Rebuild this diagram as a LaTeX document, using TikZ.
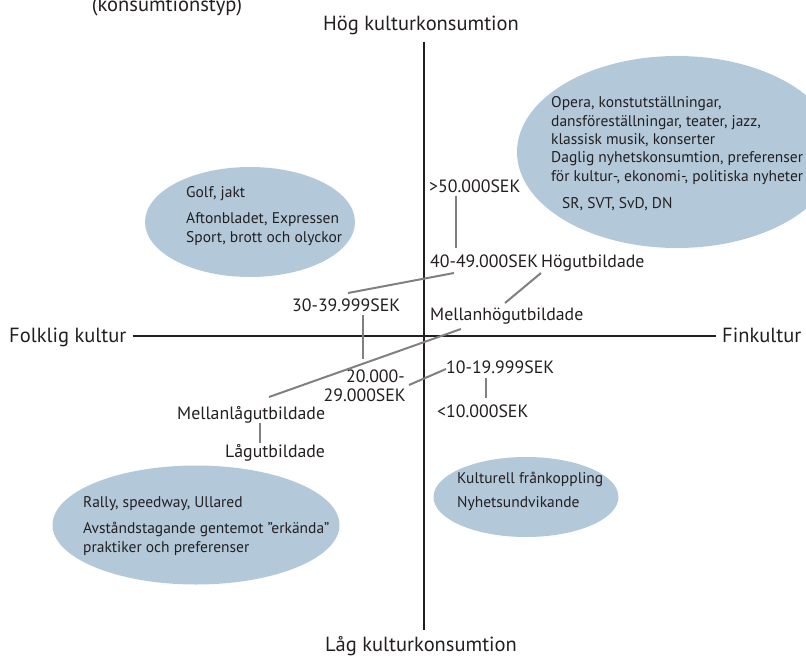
\documentclass[tikz,border=0pt]{standalone}
\usepackage{fontspec}
\setmainfont{PT Sans}
\usetikzlibrary{shapes.geometric}
\definecolor{blobblue}{RGB}{179,201,218}
\definecolor{ink}{RGB}{35,31,32}
\definecolor{linkgray}{RGB}{128,128,128}
\begin{document}
\begin{tikzpicture}[x=1pt,y=-1pt,
  axislabel/.style={font=\fontsize{20.5}{24}\selectfont, text=ink, inner sep=6pt},
  lbl/.style={font=\fontsize{17.8}{21}\selectfont, text=ink, inner sep=3pt, anchor=base west},
  blobtext/.style={font=\fontsize{15.5}{19}\selectfont, text=ink, inner sep=0pt, anchor=base west},
  blob/.style={ellipse, fill=blobblue, inner sep=0pt},
  axisline/.style={line width=2.4pt, ink},
  link/.style={line width=2pt, linkgray}]
\useasboundingbox (0,0) rectangle (806,658);
% ellipses
\node[blob, minimum width=320, minimum height=192] (eopera) at (677,152){};
\node[blob, minimum width=210, minimum height=110] (egolf) at (250,222){};
\node[blob, minimum width=287, minimum height=119] (erally) at (196,525){};
\node[blob, minimum width=185, minimum height=80] (ekult) at (526,497){};
\node[blobtext] (opera1) at (551,108){Opera, konstutställningar,};
\node[blobtext] (opera2) at (551,127){dansföreställningar, teater, jazz,};
\node[blobtext] (opera3) at (551,145){klassisk musik, konserter};
\node[blobtext] (opera4) at (551,163){Daglig nyhetskonsumtion, preferenser};
\node[blobtext] (opera5) at (551,182){för kultur-, ekonomi-, politiska nyheter};
\node[blobtext] (opera6) at (562,208){SR, SVT, SvD, DN};
\node[blobtext] (golf1) at (186,197){Golf, jakt};
\node[blobtext] (golf2) at (186,223){Aftonbladet, Expressen};
\node[blobtext] (golf3) at (186,242){Sport, brott och olyckor};
\node[blobtext] (rally1) at (83,507){Rally, speedway, Ullared};
\node[blobtext] (rally2) at (83,533){Avståndstagande gentemot ”erkända”};
\node[blobtext] (rally3) at (83,552){praktiker och preferenser};
\node[blobtext] (kult1) at (457,483){Kulturell frånkoppling};
\node[blobtext] (kult2) at (457,507){Nyhetsundvikande};
% axes
\coordinate (o) at (424,336);
\node[axislabel, anchor=base] (typ) at (167,12){(konsumtionstyp)};
\node[axislabel, anchor=base] (hk) at (421,31){Hög kulturkonsumtion};
\node[axislabel, anchor=base] (lk) at (421,651){Låg kulturkonsumtion};
\node[axislabel, anchor=base west] (folk) at (3,342){Folklig kultur};
\node[axislabel, anchor=base west] (fin) at (716,342){Finkultur};
\draw[axisline] (hk.south -| o) -- (lk.north -| o);
\draw[axisline] (folk.east |- o) -- (fin.west |- o);
% income and education
\node[lbl] (gt50) at (426,192){>50.000SEK};
\node[lbl] (r40) at (427,267){40-49.000SEK};
\node[lbl] (hog) at (538,267){Högutbildade};
\node[lbl] (r30) at (289,311){30-39.999SEK};
\node[lbl] (mh) at (427,320){Mellanhögutbildade};
\node[lbl] (r10) at (443,373){10-19.999SEK};
\node[lbl, anchor=base east] (r20a) at (408,382){20.000-};
\node[lbl, anchor=base east] (r20b) at (409,401){29.000SEK};
\node[lbl] (lt10) at (434,417){<10.000SEK};
\node[lbl] (ml) at (174,419){Mellanlågutbildade};
\node[lbl] (lu) at (222,457){Lågutbildade};
\draw[link] ([xshift=30pt,yshift=-4pt]gt50.base west) -- ([xshift=29pt,yshift=19pt]r40.base west);
\draw[link] ([xshift=27pt,yshift=-6pt]r40.base west) -- ([xshift=59pt,yshift=18pt]r30.base west);
\draw[link] ([xshift=74pt,yshift=-4pt]r30.base west) -- ([xshift=-45pt,yshift=23pt]r20a.base east);
\draw[link] ([xshift=3pt,yshift=-6pt]hog.base west) -- ([xshift=78pt,yshift=17pt]mh.base west);
\draw[link] ([xshift=34pt,yshift=-9pt]mh.base west) -- ([xshift=95pt,yshift=22pt]ml.base west);
\draw[link] ([yshift=16pt]r20b.base east) -- ([xshift=3pt,yshift=4pt]r10.base west);
\draw[link] ([xshift=43pt,yshift=-5pt]r10.base west) -- ([xshift=52pt,yshift=19pt]lt10.base west);
\draw[link] ([xshift=86pt,yshift=-4pt]ml.base west) -- ([xshift=38pt,yshift=14pt]lu.base west);
\end{tikzpicture}
\end{document}
